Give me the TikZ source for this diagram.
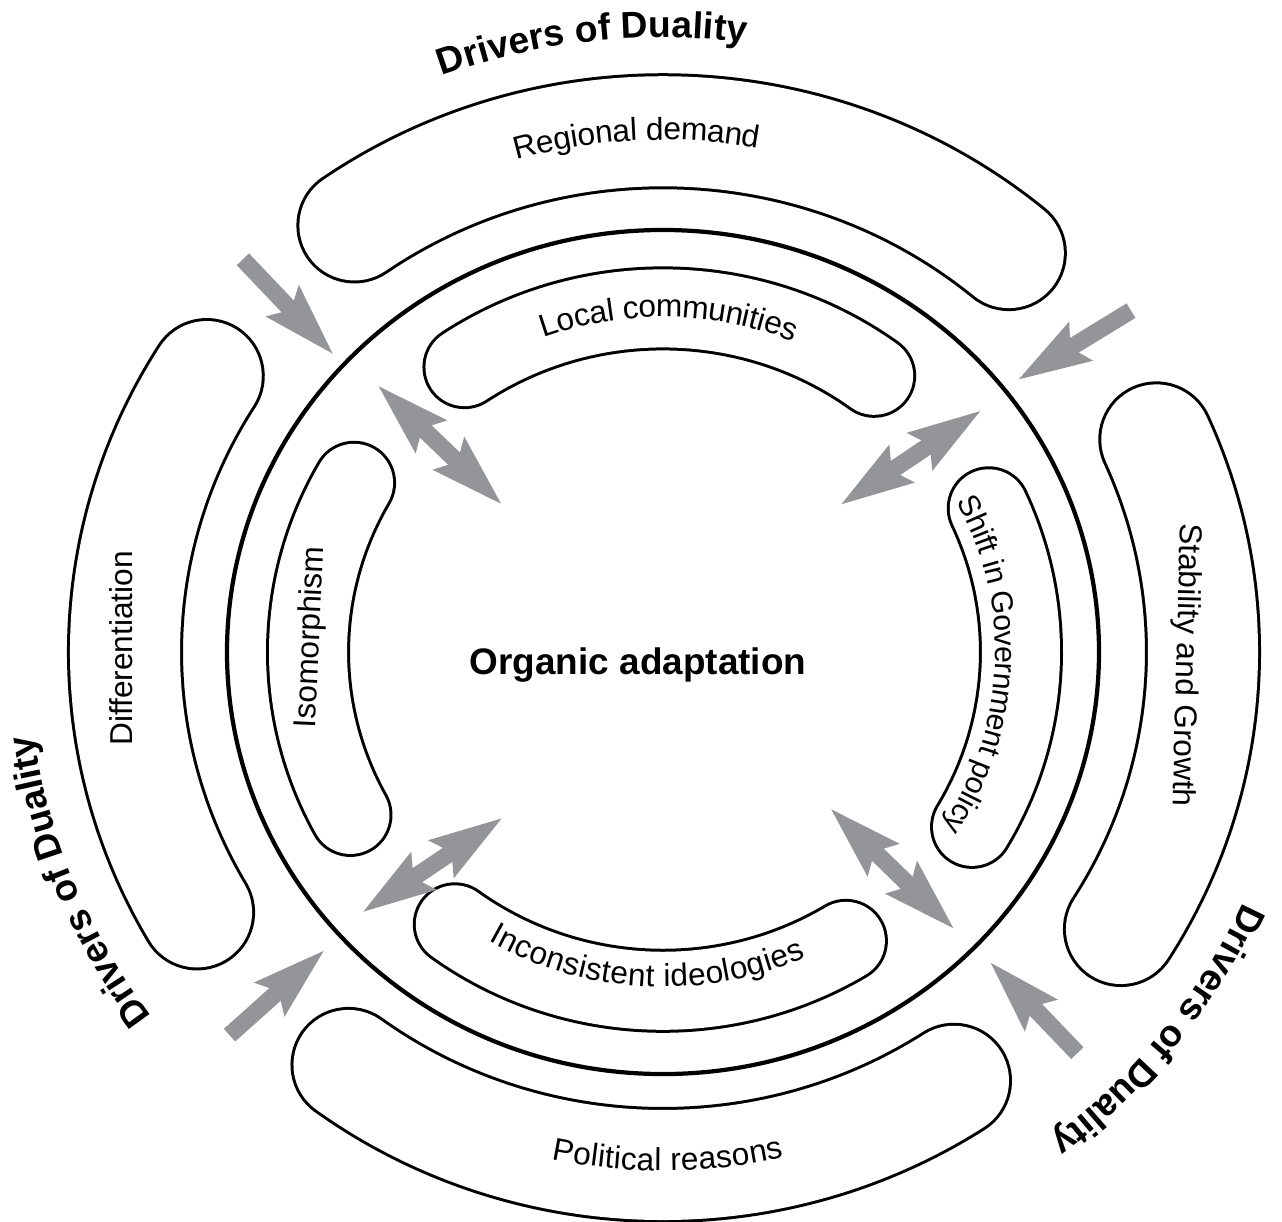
\documentclass[tikz,border=0pt]{standalone}
\usepackage{fontspec}
\setmainfont{Liberation Sans}
\usepackage{tikz}
\usetikzlibrary{arrows.meta,decorations.text}

\definecolor{arrowgray}{RGB}{147,149,152}
\newcommand{\bandfont}{\fontsize{9}{11}\selectfont}
\newcommand{\shiftfont}{\fontsize{8.6}{10}\selectfont}
\newcommand{\driverfont}{\bfseries\fontsize{10.6}{13}\selectfont}

\begin{document}
\begin{tikzpicture}[x=0.01cm,y=0.00968cm,font=\bandfont]
  \tikzstyle{bigband}=[line width=1.16cm,line cap=round]
  \tikzstyle{bigfill}=[white,line width=1.10cm,line cap=round]
  \tikzstyle{smallband}=[line width=0.84cm,line cap=round]
  \tikzstyle{smallfill}=[white,line width=0.78cm,line cap=round]
  \tikzstyle{oneway}=[arrowgray,line width=0.17cm,-{Stealth[length=0.72cm,width=0.42cm,inset=0.1cm]}]
  \tikzstyle{twoway}=[arrowgray,line width=0.17cm,{Stealth[length=0.72cm,width=0.42cm,inset=0.1cm]}-{Stealth[length=0.72cm,width=0.42cm,inset=0.1cm]}]
  \tikzstyle{bent}=[decorate,decoration={text along path,text align=center,raise=-3pt}]

  \useasboundingbox (-663,-588.8) rectangle (619,673.6);

  % outer bands
  \foreach \r/\a/\b in {538/50/125, 538/148/210, 540/-32/24, 530/233.6/303.3}{
    \draw[bigband] (\a:\r) arc[start angle=\a,end angle=\b,radius=\r];
    \draw[bigfill] (\a:\r) arc[start angle=\a,end angle=\b,radius=\r];
  }
  % inner bands
  \foreach \r/\a/\b in {355/53.5/124, 355/150.5/208.3, 358/-30.3/24.5, 350/233.5/301.5}{
    \draw[smallband] (\a:\r) arc[start angle=\a,end angle=\b,radius=\r];
    \draw[smallfill] (\a:\r) arc[start angle=\a,end angle=\b,radius=\r];
  }

  \draw[line width=1.2pt] (0,0) circle[radius=436];

  \node[font=\bfseries\fontsize{10.5}{12}\selectfont] (core) at (-25,-13) {Organic adaptation};

  \path[bent,decoration={text={|\bandfont|Regional demand}}] (132.9:540) arc[start angle=132.9,end angle=52.9,radius=540];
  \path[bent,decoration={text={|\bandfont|Local communities}}] (129:357) arc[start angle=129,end angle=49,radius=357];
  \path[bent,decoration={text={|\shiftfont|Shift in Government policy}}] (35.5:343) arc[start angle=35.5,end angle=-40.5,radius=343];
  \path[bent,decoration={text={|\bandfont|Inconsistent ideologies}}] (222:335) arc[start angle=222,end angle=312,radius=335];
  \path[bent,decoration={text={|\bandfont|Political reasons}}] (225.5:525) arc[start angle=225.5,end angle=315.5,radius=525];

  \node[rotate=87.5] (iso) at (177.5:352) {Isomorphism};
  \node[rotate=90] (diff) at (179.6:542) {Differentiation};
  \node[rotate=-91.5] (stab) at (-1.5:522) {Stability and Growth};

  \path[bent,decoration={raise=0pt,text={|\driverfont|Drivers of Duality}}] (131.5:635) arc[start angle=131.5,end angle=61.5,radius=635];
  \path[bent,decoration={raise=0pt,text={|\driverfont|Drivers of Duality}}] (236.9:635) arc[start angle=236.9,end angle=166.9,radius=635];
  \path[bent,decoration={raise=0pt,text={|\driverfont|Drivers of Duality}}] (-3:635) arc[start angle=-3,end angle=-73,radius=635];

  \coordinate (nwA) at (136:584);   \coordinate (nwB) at (137:450);
  \coordinate (neA) at (37:586);    \coordinate (neB) at (38.4:452);
  \coordinate (swA) at (222.4:587); \coordinate (swB) at (222.3:457);
  \coordinate (seA) at (-45:586);   \coordinate (seB) at (-44.4:457);
  \coordinate (nwC) at (136:397);   \coordinate (nwD) at (136.6:221);
  \coordinate (neC) at (38.1:405);  \coordinate (neD) at (40.6:233);
  \coordinate (swC) at (221.8:404); \coordinate (swD) at (226.9:234);
  \coordinate (seC) at (-44.5:409); \coordinate (seD) at (-44:232);

  \draw[oneway] (nwA) -- (nwB);
  \draw[oneway] (neA) -- (neB);
  \draw[oneway] (swA) -- (swB);
  \draw[oneway] (seA) -- (seB);
  \draw[twoway] (nwC) -- (nwD);
  \draw[twoway] (neC) -- (neD);
  \draw[twoway] (swC) -- (swD);
  \draw[twoway] (seC) -- (seD);

\end{tikzpicture}
\end{document}
